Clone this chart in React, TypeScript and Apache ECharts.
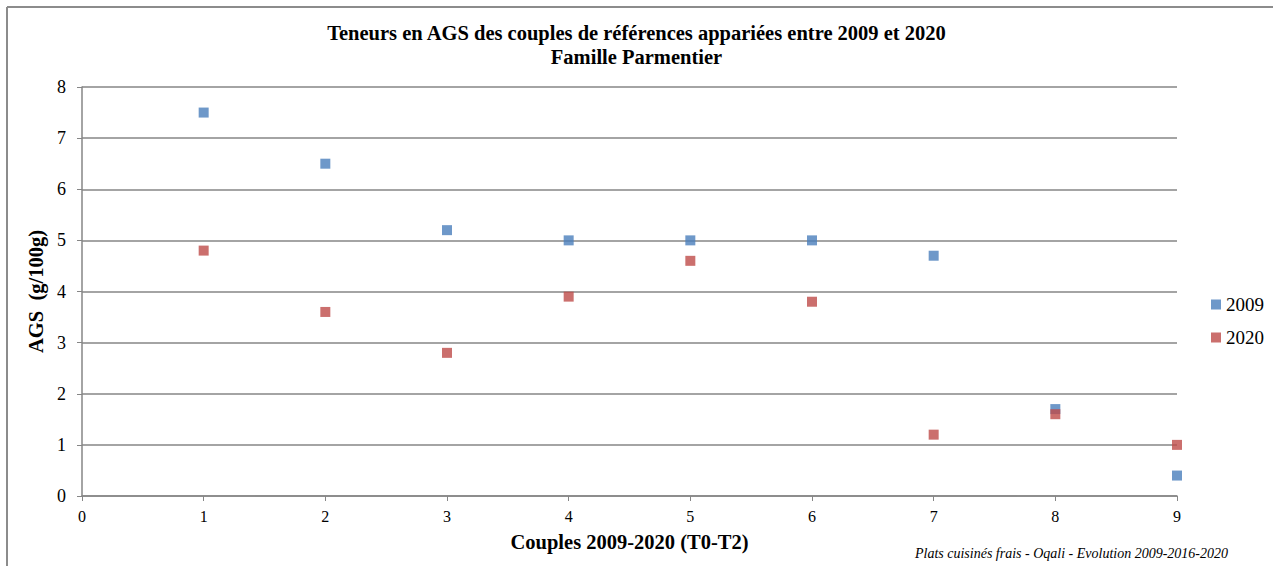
import React, { useEffect, useRef } from "react";
import * as echarts from "echarts";

const couples = [1, 2, 3, 4, 5, 6, 7, 8, 9];
const values2009 = [7.5, 6.5, 5.2, 5.0, 5.0, 5.0, 4.7, 1.7, 0.4];
const values2020 = [4.8, 3.6, 2.8, 3.9, 4.6, 3.8, 1.2, 1.6, 1.0];
const seriesNames = ["2009", "2020"];
const titleText = "Teneurs en AGS des couples de références appariées entre 2009 et 2020";
const subtitleText = "Famille Parmentier";
const sourceText = "Plats cuisinés frais - Oqali - Evolution 2009-2016-2020";

const FONT = "'Liberation Serif', serif";

export default function App() {
  const ref = useRef<HTMLDivElement>(null);
  useEffect(() => {
    const chart = echarts.init(ref.current!, null, { renderer: "svg" });
    const mk = (vals: number[]) => couples.map((c, i) => [c, vals[i]]);
    chart.setOption({
      animation: false,
      textStyle: { fontFamily: FONT },
      title: {
        text: titleText + "\n" + subtitleText,
        left: "center",
        top: 16,
        textStyle: { fontFamily: FONT, fontWeight: "bold", fontSize: 20.5, color: "#000", lineHeight: 24 },
      },
      legend: {
        orient: "vertical",
        left: 1206,
        top: 290,
        itemWidth: 10,
        itemHeight: 10,
        itemGap: 14,
        icon: "rect",
        textStyle: { fontFamily: FONT, fontSize: 19, color: "#000" },
        data: seriesNames,
      },
      grid: { left: 82, right: 96, top: 87, bottom: 70, containLabel: false },
      xAxis: {
        type: "value",
        min: 0,
        max: 9,
        interval: 1,
        name: "Couples 2009-2020 (T0-T2)",
        nameLocation: "middle",
        nameGap: 35,
        nameTextStyle: { fontFamily: FONT, fontWeight: "bold", fontSize: 20.5, color: "#000" },
        axisLine: { lineStyle: { color: "#868686", width: 1.5 } },
        axisTick: { show: true, length: 5, lineStyle: { color: "#868686" } },
        axisLabel: { fontFamily: FONT, fontSize: 16, color: "#000", margin: 12 },
        splitLine: { show: false },
      },
      yAxis: {
        type: "value",
        min: 0,
        max: 8,
        interval: 1,
        name: "AGS  (g/100g)",
        nameLocation: "middle",
        nameGap: 27,
        nameTextStyle: { fontFamily: FONT, fontWeight: "bold", fontSize: 20.5, color: "#000" },
        axisLine: { show: true, lineStyle: { color: "#868686", width: 1.5 } },
        axisTick: { show: true, length: 5, lineStyle: { color: "#868686" } },
        axisLabel: { fontFamily: FONT, fontSize: 18, color: "#000", margin: 16 },
        splitLine: { show: true, lineStyle: { color: "#868686", width: 1.5 } },
      },
      series: [
        {
          name: seriesNames[0],
          type: "scatter",
          symbol: "rect",
          symbolSize: 10,
          itemStyle: { color: "#4A7EBB" },
          data: mk(values2009),
        },
        {
          name: seriesNames[1],
          type: "scatter",
          symbol: "rect",
          symbolSize: 10,
          itemStyle: { color: "#BE4B48" },
          data: mk(values2020),
        },
      ],
      graphic: [
        { type: "line", shape: { x1: 7, y1: 7, x2: 1273, y2: 7 }, style: { stroke: "#8c8c8c", lineWidth: 2 } },
        { type: "line", shape: { x1: 7, y1: 7, x2: 7, y2: 566 }, style: { stroke: "#8c8c8c", lineWidth: 2 } },
        {
          type: "text",
          right: 45,
          top: 546,
          style: { text: sourceText, fontFamily: FONT, fontStyle: "italic", fontSize: 14, fill: "#000" },
        },
      ],
    });
    return () => chart.dispose();
  }, []);
  return (
    <div
      ref={ref}
      style={{ position: "absolute", left: 0, top: 0, width: 1273, height: 566 }}
    />
  );
}
